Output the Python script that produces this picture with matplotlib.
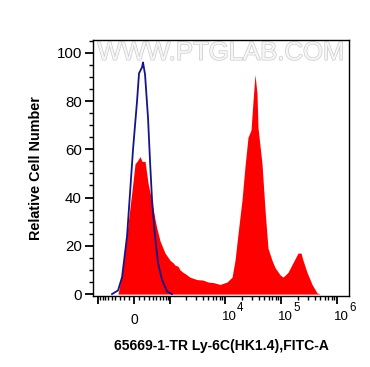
import numpy as np
import matplotlib
matplotlib.use('Agg')
import matplotlib.pyplot as plt
import matplotlib.patheffects as pe

plt.rcParams['font.family'] = ['Liberation Sans', 'DejaVu Sans']

# Ly-6C stained sample (red, filled)
red_x = [-335, -222, -118, -39, 19.5, 59, 118, 159, 222, 288, 384, 461, 518, 610,
         709, 782, 989, 1128, 1237, 1408, 1536, 1744, 1900, 2346, 3138, 4034, 4958,
         6096, 8129, 10845, 13334, 15073, 17050, 20093, 22743, 25719, 29090, 31597,
         34303, 37242, 38797, 45741, 51761, 58492, 69014, 78020, 95843, 108356,
         133194, 163530, 200976, 227520, 246954, 291036, 357870, 438924, 496752]
red_y = [0, 11, 29, 43, 54, 55, 57, 55, 55, 46, 38, 31, 27, 22,
         19, 17, 14, 13, 12, 11.5, 10, 9, 8.5, 7, 6, 5.8, 5,
         4.8, 4, 5, 7, 14, 25, 39, 53, 65, 68, 80,
         91, 83, 69, 54, 35, 19, 14, 11, 8, 7,
         9, 13, 17, 17, 14, 9, 4, 0.5, 0]

# isotype control (blue line)
blue_x = [-490, -335, -243, -138, -78, -19.5, 59, 98, 159, 179, 222, 288, 335,
          384, 461, 547, 673, 867, 1080]
blue_y = [0, 1.5, 7, 24, 42, 60, 80, 91.5, 94, 96, 91, 73, 55,
          39, 24, 13, 6, 1, 0]

xticks = [-1000, 0, 1000, 1e4, 1e5, 1e6]
xticklabels = ['', '0', '', '', '', '']
decades = [1e4, 1e5, 1e6]
decade_exps = ['4', '5', '6']

W = 474.0


def fwd(v):
    return np.arcsinh(np.asarray(v) / W) / np.log(10)


def inv(u):
    return W * np.sinh(np.asarray(u) * np.log(10))


fig = plt.figure(figsize=(3.70, 3.67), dpi=100)
ax = fig.add_axes([93 / 370, 71 / 367, 256 / 370, 256 / 367])
ax.set_xscale('function', functions=(fwd, inv))

ax.fill_between(red_x, red_y, 0, color='#ff0000', linewidth=0)
ax.plot(blue_x, blue_y, color='#14148c', linewidth=1.3)

ax.set_xlim(-1237, 1.636e6)
ax.set_ylim(-0.8, 105.3)

ax.set_xticks(xticks)
ax.set_xticklabels(xticklabels)
minor = list(range(-900, 0, 100)) + list(range(100, 1000, 100))
for d in [1e3, 1e4, 1e5]:
    minor += [k * d for k in range(2, 10)]
ax.set_xticks(minor, minor=True)

# decade labels: "10" with a raised exponent
for d, e in zip(decades, decade_exps):
    ax.annotate('10', xy=(d, 0), xycoords=('data', 'axes fraction'),
                xytext=(-3, -20.5), textcoords='offset pixels',
                ha='left', va='center', fontsize=9.5)
    ax.annotate(e, xy=(d, 0), xycoords=('data', 'axes fraction'),
                xytext=(12, -12), textcoords='offset pixels',
                ha='left', va='center', fontsize=8.3)

ax.set_yticks(range(0, 101, 20))
ax.set_yticks(range(0, 106, 5), minor=True)

ax.tick_params(axis='both', which='major', length=6, width=1.3,
               direction='out', color='black')
ax.tick_params(axis='both', which='minor', length=3, width=1.0, direction='out')
ax.tick_params(axis='x', which='major', pad=6, labelsize=10)
ax.tick_params(axis='y', which='major', pad=2, labelsize=10.8)

for s in ax.spines.values():
    s.set_linewidth(1.0)

ax.set_xlabel('65669-1-TR Ly-6C(HK1.4),FITC-A', fontsize=10.1, fontweight='bold',
              labelpad=9)
ax.set_ylabel('Relative Cell Number', fontsize=10.4, fontweight='bold', labelpad=10)

ax.text(0.5, 0.95, 'WWW.PTGLAB.COM', transform=ax.transAxes, fontsize=18.5,
        ha='center', va='center', color='#f6f6f6', zorder=0,
        path_effects=[pe.withStroke(linewidth=1.0, foreground='#cccccc')])

fig.savefig('out.png', dpi=100)
